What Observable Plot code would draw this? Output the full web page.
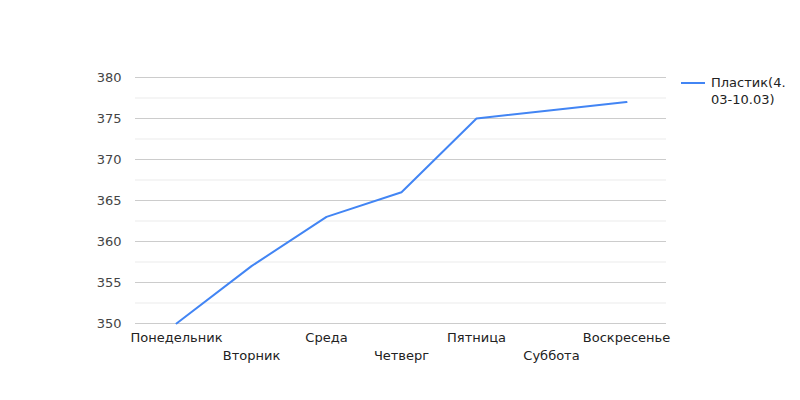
<!DOCTYPE html>
<html>
<head>
<meta charset="utf-8">
<script src="https://cdn.jsdelivr.net/npm/d3@7"></script>
<script src="https://cdn.jsdelivr.net/npm/@observablehq/plot@0.6"></script>
<style>
  body { margin: 0; background: #fff; }
  #wrap { position: relative; width: 800px; height: 400px; font-family: "DejaVu Sans", sans-serif; }
  #legend { position: absolute; left: 681px; top: 74px; font-size: 13px; color: #222; line-height: 17px; }
  #legend .sw { position: absolute; left: 0; top: 8px; width: 24px; height: 2px; background: #4285f4; }
  #legend .tx { position: absolute; left: 30px; top: 0; width: 90px; white-space: nowrap; }
</style>
</head>
<body>
<div id="wrap"><div id="legend"><div class="sw"></div><div class="tx">Пластик(4.<br>03-10.03)</div></div></div>
<script>
const days = ["Понедельник", "Вторник", "Среда", "Четверг", "Пятница", "Суббота", "Воскресенье"];
const values = [350, 357, 363, 366, 375, 376, 377];
const seriesName = "Пластик(4.03-10.03)";
const yTicks = [350, 355, 360, 365, 370, 375, 380];
const yMinor = [352.5, 357.5, 362.5, 367.5, 372.5, 377.5];

const data = days.map((d, i) => ({day: d, value: values[i], i}));

const chart = Plot.plot({
  width: 800,
  height: 400,
  marginLeft: 135,
  marginRight: 134,
  marginTop: 77,
  marginBottom: 77,
  style: {fontFamily: "DejaVu Sans, sans-serif", fontSize: "13px", color: "#444", background: "#fff"},
  x: {type: "point", domain: days, padding: 0.5, axis: null},
  y: {domain: [350, 380], axis: null},
  marks: [
    Plot.ruleY(yMinor, {stroke: "#ebebeb", strokeWidth: 1}),
    Plot.ruleY(yTicks, {stroke: "#cccccc", strokeWidth: 1}),
    Plot.text(yTicks, {x: null, y: d => d, frameAnchor: "left", textAnchor: "end", dx: -14, text: d => String(d), fill: "#444"}),
    Plot.text(data.filter(d => d.i % 2 === 0), {x: "day", frameAnchor: "bottom", dy: 18, text: "day", fill: "#222"}),
    Plot.text(data.filter(d => d.i % 2 === 1), {x: "day", frameAnchor: "bottom", dy: 36, text: "day", fill: "#222"}),
    Plot.line(data, {x: "day", y: "value", stroke: "#4285f4", strokeWidth: 2})
  ]
});
document.getElementById("wrap").prepend(chart);
chart.style.position = "absolute";
chart.style.left = "0";
chart.style.top = "0";
</script>
</body>
</html>
